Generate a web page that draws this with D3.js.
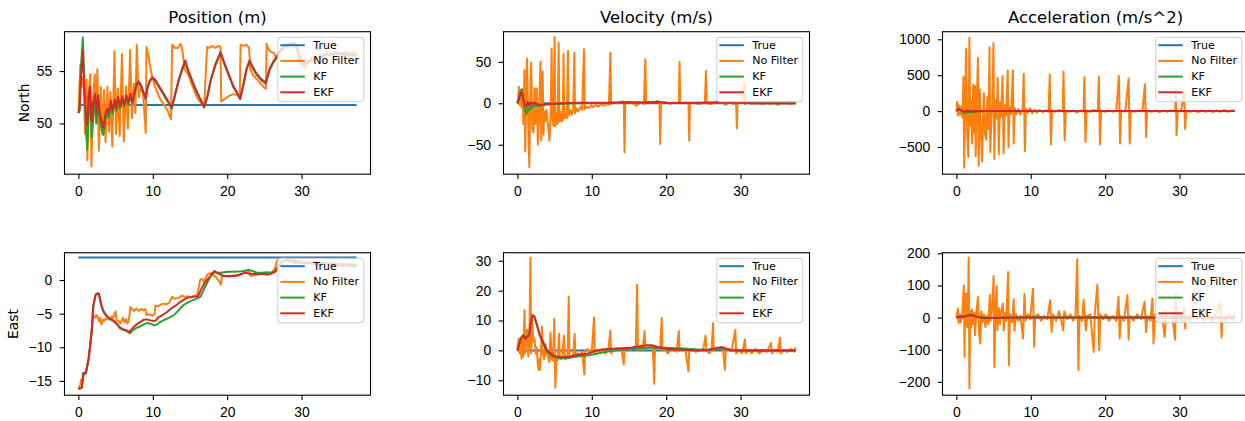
<!DOCTYPE html>
<html lang="en">
<head>
<meta charset="UTF-8">
<title>Position / Velocity / Acceleration</title>
<script src="https://d3js.org/d3.v7.min.js"></script>
<style>
  body { margin: 0; background: #fff; }
  svg { display: block; font-family: 'DejaVu Sans', sans-serif; }
  .tick text { font-size: 13.9px; fill: #000; }
  .tick line { stroke: #000; stroke-width: 1.1px; }
</style>
</head>
<body>
<div id="chart"></div>
<script>
// ---- data: [time (s), value] pairs ----
const seriesNames = ["True", "No Filter", "KF", "EKF"];
const colTitles = ["Position (m)", "Velocity (m/s)", "Acceleration (m/s^2)"];
const rowLabels = ["North", "East"];
const xTicks = [0, 10, 20, 30];

// North position
const posNorthTrue = [[0, 51.75], [37.4, 51.75]];
const posNorthMeas = [[0,51.0],[0.25,55.6],[0.5,53.5],[0.7,54.5],[0.9,49.0],[1.1,54.2],[1.2,46.5],[1.4,53.0],[1.6,54.7],[1.75,45.9],[1.95,52.0],[2.2,54.7],[2.35,50.0],[2.55,55.2],[2.75,47.4],[3.0,53.5],[3.2,49.0],[3.45,53.2],[3.65,48.2],[3.9,53.5],[4.1,49.2],[4.3,53.0],[4.55,47.8],[4.85,56.9],[5.05,49.0],[5.3,53.3],[5.55,48.8],[5.85,56.6],[6.1,48.3],[6.4,53.5],[6.65,49.5],[6.95,57.0],[7.2,50.5],[7.45,53.8],[7.65,51.0],[7.85,57.5],[8.1,52.5],[8.4,53.5],[8.7,52.8],[9.05,49.1],[9.15,57.3],[9.4,56.5],[9.8,54.8],[10.3,53.5],[11.0,52.3],[11.5,51.8],[12.0,51.2],[12.45,50.4],[12.6,57.5],[13.0,57.2],[13.4,57.2],[13.7,57.6],[13.9,57.3],[14.3,55.2],[14.8,54.6],[15.3,53.6],[15.8,52.7],[16.3,52.1],[16.9,51.6],[17.3,57.3],[17.6,57.2],[18.0,57.4],[18.4,57.2],[18.8,57.4],[19.1,57.3],[19.2,52.1],[19.6,52.3],[20.2,52.6],[20.8,52.8],[21.3,52.7],[21.7,52.5],[21.8,57.5],[22.2,57.4],[22.6,57.5],[22.95,57.2],[23.1,55.2],[23.5,54.6],[24.0,54.2],[24.5,53.8],[25.0,53.4],[25.2,53.3],[25.3,57.6],[25.6,57.0],[26.0,56.8],[26.3,56.7],[26.6,56.2],[27.0,56.8],[27.5,57.4],[28.0,57.2],[28.5,57.6],[29.0,57.7],[29.4,57.3],[29.6,56.0],[30.0,55.5],[30.5,55.3],[31.0,55.9],[31.5,56.3],[32.0,56.2],[32.5,56.6],[33.0,56.4],[33.5,56.9],[34.0,56.6],[34.5,56.9],[35.0,56.7],[35.5,56.5],[36.0,56.9],[36.5,56.6],[37.0,56.8],[37.4,56.6]];
const posNorthKF = [[0,51.0],[0.15,51.3],[0.35,55.5],[0.6,58.2],[0.8,53.5],[1.0,49.5],[1.2,47.5],[1.35,50.5],[1.55,52.6],[1.8,48.7],[2.0,50.5],[2.25,52.2],[2.45,50.0],[2.65,52.3],[2.9,50.2],[3.1,49.5],[3.35,48.9],[3.6,50.2],[3.85,51.0],[4.1,50.6],[4.35,51.9],[4.6,50.9],[4.9,52.0],[5.1,51.2],[5.35,52.3],[5.6,51.4],[5.9,52.4],[6.15,51.6],[6.45,52.5],[6.7,51.8],[7.0,52.6],[7.25,51.9],[7.55,52.8],[7.85,53.6],[8.1,53.8],[8.4,53.6],[8.7,53.0],[9.05,52.3],[9.3,53.4],[9.6,54.0],[9.9,54.3],[10.3,54.1],[10.8,53.5],[11.4,52.8],[12.0,52.1],[12.55,51.4],[13.0,52.7],[13.5,54.1],[14.0,55.2],[14.35,55.9],[14.8,54.9],[15.4,53.8],[16.0,52.8],[16.5,52.1],[16.9,51.5],[17.3,52.4],[17.8,54.1],[18.4,55.5],[19.1,56.7],[19.6,55.7],[20.2,54.6],[20.8,53.5],[21.3,52.9],[21.75,52.3],[22.2,53.7],[22.6,55.1],[23.0,55.9],[23.5,55.2],[24.0,54.6],[24.6,54.1],[25.2,53.8],[25.7,55.1],[26.2,55.8],[26.6,56.2],[27.2,56.9],[27.8,57.3],[28.4,57.5],[29.0,57.6],[29.4,57.1],[29.8,56.2],[30.3,55.6],[30.8,55.8],[31.3,56.0],[32.0,56.1],[32.6,56.3],[33.3,56.5],[34.0,56.5],[34.7,56.6],[35.4,56.6],[36.2,56.5],[36.8,56.5],[37.4,56.4]];
const posNorthEKF = [[0,51.0],[0.15,51.2],[0.35,54.5],[0.6,56.9],[0.8,53.0],[1.0,51.0],[1.2,49.8],[1.35,52.5],[1.55,53.5],[1.8,50.2],[2.0,52.0],[2.25,52.8],[2.45,51.0],[2.65,52.7],[2.9,50.8],[3.1,50.3],[3.35,49.6],[3.6,50.8],[3.85,51.4],[4.1,51.0],[4.35,52.2],[4.6,51.2],[4.9,52.3],[5.1,51.5],[5.35,52.5],[5.6,51.6],[5.9,52.6],[6.15,51.8],[6.45,52.7],[6.7,52.0],[7.0,52.8],[7.25,52.1],[7.55,53.0],[7.85,53.8],[8.1,54.0],[8.4,53.7],[8.7,53.1],[9.05,52.4],[9.3,53.5],[9.6,54.1],[9.9,54.4],[10.3,54.2],[10.8,53.6],[11.4,52.9],[12.0,52.2],[12.55,51.5],[13.0,52.8],[13.5,54.2],[14.0,55.3],[14.35,56.0],[14.8,55.0],[15.4,53.9],[16.0,52.9],[16.5,52.2],[16.9,51.6],[17.3,52.5],[17.8,54.2],[18.4,55.6],[19.1,56.8],[19.6,55.8],[20.2,54.7],[20.8,53.6],[21.3,53.0],[21.75,52.4],[22.2,53.8],[22.6,55.2],[23.0,56.0],[23.5,55.3],[24.0,54.7],[24.6,54.2],[25.2,53.9],[25.7,55.2],[26.2,55.9],[26.6,56.3],[27.2,57.0],[27.8,57.4],[28.4,57.6],[29.0,57.7],[29.4,57.2],[29.8,56.3],[30.3,55.7],[30.8,55.9],[31.3,56.1],[32.0,56.2],[32.6,56.4],[33.3,56.6],[34.0,56.6],[34.7,56.7],[35.4,56.7],[36.2,56.6],[36.8,56.6],[37.4,56.5]];

// North velocity
const velNorthTrue = [[0, 0], [37.4, 0]];
const velNorthMeas = [[0,0],[0.1,5],[0.2,20],[0.3,-2],[0.45,15],[0.55,-5],[0.7,10],[0.8,-25],[0.95,40],[1.05,-58],[1.2,18],[1.3,54],[1.45,-20],[1.6,-77],[1.75,18],[1.85,49],[2.0,-30],[2.15,-35],[2.3,18],[2.45,-25],[2.6,18],[2.75,-50],[2.9,-20],[3.0,20],[3.1,50],[3.2,-45],[3.3,28],[3.4,38],[3.5,-38],[3.6,-10],[3.75,-22],[3.9,-8],[4.1,-25],[4.3,-45],[4.45,-20],[4.6,66],[4.7,-15],[4.85,-27],[5.0,80],[5.1,-28],[5.25,-12],[5.4,-25],[5.55,73],[5.65,-22],[5.8,-10],[5.95,-22],[6.1,-20],[6.2,60],[6.3,-18],[6.5,-12],[6.65,-18],[6.8,63],[6.9,-15],[7.1,-8],[7.3,-14],[7.5,-7],[7.65,61],[7.75,-12],[8.0,-6],[8.2,-10],[8.5,-4],[8.7,-8],[8.95,65],[9.05,-7],[9.3,-4],[9.6,-6],[9.9,-2],[10.2,-5],[10.5,-2],[10.9,-4],[11.2,-1],[11.6,-3],[12.0,-1],[12.3,-2],[12.5,61],[12.6,-1],[13.0,1],[13.5,0],[14.0,2],[14.3,2],[14.4,-59],[14.5,1],[15.0,2],[15.5,0],[16.0,-3],[16.5,1],[17.0,-1],[17.2,53],[17.3,1],[17.8,2],[18.3,1],[18.8,3],[19.1,0],[19.2,-49],[19.3,0],[20.0,1],[20.5,-1],[21.0,1],[21.7,0],[21.8,50],[21.9,0],[22.5,1],[23.0,0],[23.1,-45],[23.2,1],[23.8,0],[24.5,-1],[25.2,1],[25.35,39],[25.45,0],[26.0,-1],[26.6,1],[27.0,3],[27.5,1],[28.0,-2],[28.5,2],[29.0,-1],[29.4,0],[29.5,-30],[29.6,0],[30.2,1],[30.5,25],[30.6,-1],[31.0,1],[31.5,-1],[32.0,2],[32.5,0],[33.0,-1],[33.5,1],[34.0,-1],[34.5,1],[35.0,-2],[35.5,0],[36.0,1],[36.5,-1],[37.0,0],[37.4,0]];
const velNorthKF = [[0,0],[0.2,7],[0.45,16],[0.6,17],[0.8,5],[1.0,-8],[1.2,-13],[1.4,-6],[1.6,-9],[1.8,-4],[2.0,-5],[2.3,-2],[2.6,-3],[3.0,-3],[3.5,-2],[4.0,-1.5],[5.0,-1],[6.0,-0.5],[8.0,0],[10.0,0.3],[12.0,0.4],[14.0,0.9],[15.0,1.1],[17.0,0.9],[19.0,1.4],[20.0,0.5],[22.0,0.3],[24.0,0.4],[26.0,0.7],[28.0,0.9],[30.0,0.4],[32.0,0],[37.4,0]];
const velNorthEKF = [[0,0],[0.2,5],[0.45,12],[0.6,13],[0.8,5],[1.0,-2],[1.2,-4],[1.4,2],[1.6,-3],[1.8,1],[2.0,-1],[2.3,1],[2.6,-1],[3.0,-2],[3.5,-1.5],[4.0,-1],[5.0,-0.5],[6.0,0],[8.0,0.5],[10.0,0.5],[12.0,0.5],[14.0,1],[15.0,1.2],[17.0,1],[19.0,1.5],[20.0,0.5],[22.0,0.3],[24.0,0.5],[26.0,0.8],[28.0,1],[30.0,0.5],[32.0,0],[37.4,0]];

// North acceleration
const accNorthTrue = [[0, 0], [37.4, 0]];
const accNorthMeas = [[0,0],[0.1,130],[0.2,-60],[0.35,80],[0.5,-50],[0.65,60],[0.8,-90],[0.95,480],[1.05,-790],[1.2,250],[1.3,865],[1.45,-310],[1.6,-640],[1.75,1020],[1.85,-200],[2.0,150],[2.1,-450],[2.25,370],[2.4,-300],[2.5,350],[2.6,-630],[2.75,200],[2.9,740],[3.0,-760],[3.15,300],[3.3,-300],[3.45,-700],[3.55,-200],[3.7,250],[3.85,-320],[4.0,-400],[4.15,200],[4.3,-250],[4.45,890],[4.55,-570],[4.7,-150],[4.85,200],[4.98,950],[5.1,-670],[5.25,150],[5.4,-100],[5.55,460],[5.7,-600],[5.85,120],[6.0,-80],[6.2,490],[6.35,-590],[6.5,80],[6.7,-60],[6.9,565],[7.0,-500],[7.15,60],[7.35,-40],[7.6,565],[7.7,-450],[7.85,40],[8.1,-40],[8.3,30],[8.6,-50],[8.9,20],[9.05,520],[9.2,-560],[9.35,30],[9.6,-20],[9.9,40],[10.2,-30],[10.5,20],[10.8,-20],[11.2,15],[11.6,-15],[12.0,10],[12.4,-10],[12.55,515],[12.7,-465],[12.85,10],[13.3,-10],[13.8,15],[14.3,-5],[14.4,550],[14.55,-405],[14.7,5],[15.2,-10],[15.7,10],[16.2,-20],[16.7,10],[17.1,-5],[17.2,470],[17.35,-430],[17.5,10],[18.0,-10],[18.5,15],[19.0,-5],[19.15,480],[19.3,-465],[19.45,5],[20.0,-10],[20.5,10],[21.0,-10],[21.5,5],[21.85,490],[22.0,-450],[22.15,5],[22.7,-5],[23.15,455],[23.3,-450],[23.45,5],[24.0,-10],[24.5,10],[25.0,-5],[25.35,375],[25.5,-360],[25.65,5],[26.2,-10],[26.8,10],[27.3,-15],[27.8,10],[28.3,-10],[28.8,10],[29.4,-5],[29.5,290],[29.6,-335],[29.75,5],[30.2,-5],[30.6,265],[30.75,-250],[30.9,5],[31.5,-10],[32.0,10],[32.5,-15],[33.0,10],[33.5,-10],[34.0,10],[34.5,-15],[35.0,10],[35.5,-10],[36.0,15],[36.5,-10],[37.0,10],[37.4,5]];
const accNorthKF = [[0,0],[0.3,35],[0.7,5],[1.0,-25],[1.4,-20],[2.0,-10],[3.0,-3],[5.0,0],[37.4,0]];
const accNorthEKF = [[0,0],[0.3,30],[0.7,10],[1.0,-10],[1.5,5],[2.0,-5],[3.0,2],[5.0,0],[37.4,0]];

// East position
const posEastTrue = [[0, 3.35], [37.4, 3.35]];
const posEastMeas = [[0,-16.2],[0.25,-15.5],[0.4,-14.8],[0.55,-15.0],[0.7,-14.2],[0.85,-13.9],[1.0,-13.7],[1.2,-12.8],[1.4,-11.5],[1.6,-9.5],[1.8,-7.2],[1.95,-5.5],[2.1,-5.3],[2.3,-5.6],[2.45,-5.2],[2.6,-5.6],[2.8,-6.2],[2.95,-5.6],[3.1,-6.6],[3.3,-5.9],[3.5,-6.0],[3.7,-5.7],[3.9,-5.9],[4.1,-5.6],[4.3,-5.9],[4.5,-5.4],[4.7,-5.6],[4.85,-5.0],[5.0,-4.7],[5.15,-6.0],[5.4,-6.1],[5.6,-6.4],[5.8,-6.1],[6.0,-5.6],[6.2,-6.3],[6.4,-5.8],[6.6,-6.5],[6.8,-5.8],[7.0,-4.0],[7.2,-4.3],[7.5,-4.6],[7.8,-4.2],[8.1,-4.6],[8.4,-4.3],[8.7,-4.5],[9.0,-4.3],[9.15,-5.2],[9.5,-5.1],[9.9,-5.3],[10.25,-5.1],[10.35,-3.8],[10.7,-3.9],[11.0,-3.7],[11.4,-3.5],[11.8,-3.6],[12.2,-3.4],[12.6,-2.5],[12.9,-2.8],[13.3,-2.7],[13.7,-2.5],[13.9,-2.3],[14.3,-2.5],[14.7,-2.4],[15.1,-2.6],[15.5,-2.4],[15.9,-2.4],[16.2,-1.0],[16.35,0.0],[16.6,0.2],[16.9,-0.3],[17.1,0.3],[17.4,0.9],[17.8,1.0],[18.2,0.7],[18.6,0.3],[19.0,-0.3],[19.15,-0.7],[19.3,0.7],[19.8,0.6],[20.3,0.5],[20.8,0.7],[21.3,0.6],[21.8,0.8],[22.3,1.0],[22.9,1.3],[23.1,0.6],[23.5,0.7],[24.0,0.8],[24.5,0.9],[25.0,1.0],[25.5,0.9],[26.0,1.1],[26.4,1.7],[26.7,2.9],[27.0,3.1],[27.6,3.3],[28.0,3.0],[28.5,2.8],[29.0,2.5],[29.5,2.6],[30.0,2.4],[30.5,2.7],[31.0,2.5],[31.5,2.4],[32.0,2.5],[32.5,2.3],[33.0,2.4],[33.5,2.2],[34.0,2.3],[34.5,2.2],[35.0,2.3],[35.5,2.1],[36.0,2.2],[36.5,2.0],[37.0,2.1],[37.4,2.0]];
const posEastKF = [[0,-16.2],[0.45,-16.0],[0.67,-13.9],[1.0,-13.9],[1.4,-11.6],[1.8,-7.6],[2.0,-3.9],[2.3,-2.2],[2.5,-2.0],[2.75,-2.1],[3.1,-3.9],[3.4,-4.8],[3.8,-5.4],[4.2,-5.8],[4.7,-6.1],[5.2,-6.6],[5.6,-7.2],[6.0,-7.4],[6.5,-7.6],[6.9,-7.9],[7.4,-7.4],[7.8,-7.1],[8.3,-6.9],[8.8,-6.6],[9.2,-6.4],[9.7,-6.5],[10.3,-6.75],[10.7,-6.5],[11.0,-6.25],[11.6,-5.9],[12.2,-5.6],[12.8,-5.25],[13.3,-4.7],[13.7,-4.2],[14.1,-3.75],[14.6,-3.4],[15.2,-3.1],[15.9,-2.75],[16.4,-2.5],[16.9,-1.3],[17.5,0.0],[17.9,0.8],[18.2,1.15],[18.7,1.1],[19.1,1.1],[20.0,1.25],[21.0,1.25],[22.0,1.3],[22.9,1.5],[23.5,1.3],[24.0,1.1],[24.7,1.1],[25.4,1.15],[26.0,1.1],[26.5,1.4],[26.9,2.1],[27.3,2.6],[27.6,2.9],[28.3,3.0],[29.0,2.9],[30.0,2.7],[31.0,2.6],[32.0,2.6],[33.0,2.5],[34.0,2.5],[35.0,2.4],[36.0,2.4],[37.0,2.3],[37.4,2.3]];
const posEastEKF = [[0,-16.2],[0.45,-16.0],[0.67,-13.8],[1.0,-13.8],[1.4,-11.5],[1.8,-7.5],[2.0,-3.8],[2.3,-2.3],[2.5,-2.0],[2.75,-2.0],[3.1,-3.8],[3.4,-4.7],[3.8,-5.3],[4.2,-5.7],[4.7,-6.0],[5.2,-6.5],[5.6,-7.1],[6.0,-7.3],[6.5,-7.5],[6.9,-7.75],[7.1,-7.4],[7.4,-7.0],[7.8,-6.6],[8.3,-6.25],[8.8,-5.9],[9.2,-5.85],[9.7,-6.0],[10.3,-6.1],[10.8,-5.5],[11.3,-5.2],[11.9,-4.75],[12.4,-4.3],[12.8,-4.0],[13.3,-3.6],[13.7,-3.25],[14.2,-2.9],[14.6,-2.65],[15.3,-2.5],[16.1,-2.4],[16.5,-1.4],[16.8,-0.75],[17.2,-0.1],[17.7,0.5],[18.0,1.0],[18.3,1.35],[18.8,1.0],[19.5,0.6],[20.2,0.6],[20.9,0.6],[21.6,0.8],[22.4,1.1],[23.3,0.9],[24.1,0.9],[24.9,0.9],[25.5,0.8],[26.0,1.0],[26.4,1.2],[26.7,1.6],[27.0,2.2],[27.35,2.75],[27.8,2.9],[28.5,2.9],[29.2,2.7],[30.0,2.6],[31.0,2.5],[32.0,2.4],[33.0,2.4],[34.0,2.3],[35.0,2.2],[36.0,2.2],[37.0,2.1],[37.4,2.0]];

// East velocity
const velEastTrue = [[0, 0], [37.4, 0]];
const velEastMeas = [[0,0],[0.15,4],[0.3,-1],[0.45,3],[0.55,-2.8],[0.7,4.5],[0.8,-2],[0.95,13.5],[1.05,-1],[1.15,4],[1.3,7],[1.45,-2],[1.6,3],[1.75,31],[1.85,-1],[2.0,10],[2.15,3],[2.3,4],[2.45,-1],[2.6,1],[2.75,-5],[2.85,-6.5],[2.95,-3],[3.05,-6.5],[3.15,-1],[3.3,8],[3.4,-1],[3.6,-3],[3.75,2],[3.9,-1],[4.1,-2],[4.3,-4],[4.45,6],[4.6,-3],[4.8,-3.5],[4.95,10.6],[5.1,-12.5],[5.25,-2],[5.4,-3.5],[5.6,5.6],[5.7,-2.5],[5.9,-3],[6.05,-2],[6.25,5],[6.4,-3],[6.6,-2],[6.75,-2.5],[6.9,18],[7.0,-2.5],[7.2,-2],[7.5,-1.5],[7.7,5.6],[7.8,-1.5],[8.1,-1],[8.4,-1.5],[8.7,-0.5],[9.0,-8],[9.1,-0.5],[9.4,0.5],[9.7,-0.5],[10.0,0],[10.3,11],[10.4,-1],[10.7,0],[11.0,-0.5],[11.4,0.5],[11.8,-1],[12.2,0],[12.5,6.7],[12.6,-1],[12.9,0.3],[13.3,0],[13.7,0.5],[14.0,0],[14.3,-4.7],[14.4,0.5],[14.8,1],[15.2,0],[15.6,1],[15.9,0.5],[16.1,22],[16.2,0],[16.5,1.5],[16.8,0],[17.1,6.5],[17.2,0.5],[17.5,1],[17.8,1.5],[18.2,1],[18.4,-11.2],[18.5,1],[18.8,0.5],[19.2,1],[19.4,10.9],[19.5,0],[19.8,0.5],[20.2,-1],[20.6,0],[21.0,0.5],[21.4,-0.5],[21.7,6.5],[21.8,0],[22.2,0.5],[22.6,0],[23.0,-7],[23.1,0],[23.5,0.5],[24.0,-0.5],[24.5,0],[25.0,0.5],[25.3,5],[25.4,0],[25.8,-1],[26.1,0],[26.3,9.2],[26.4,0],[26.8,1],[27.2,0.5],[27.6,1],[27.9,-6.5],[28.0,0],[28.4,0.5],[28.8,0],[29.3,6.9],[29.4,-1],[29.8,0],[30.2,-1],[30.6,3.6],[30.7,-1],[31.1,0],[31.5,-1],[32.0,0.5],[32.5,-1],[33.0,0],[33.5,-0.5],[34.1,2.5],[34.2,-1],[34.6,0],[35.0,-0.5],[35.3,4.3],[35.4,-1],[35.8,0],[36.3,-0.5],[36.8,0.5],[37.2,-0.5],[37.4,1]];
const velEastKF = [[0,0],[0.45,4.1],[0.8,5.2],[1.1,4.0],[1.3,4.6],[1.55,5.1],[1.8,9.2],[2.0,11.8],[2.3,11.3],[2.7,7.9],[3.0,5.0],[3.35,3.0],[3.7,1.0],[4.0,-0.5],[4.7,-2.0],[5.6,-2.6],[6.7,-2.6],[7.6,-2.2],[8.5,-1.9],[9.4,-1.7],[10.5,-1.2],[11.6,-0.6],[12.6,-0.2],[13.6,0.2],[15.2,0.5],[16.5,0.7],[18.0,0.9],[19.2,1.0],[20.6,0.8],[22.3,0.6],[24.1,0.3],[25.5,0.1],[27.3,0.6],[28.6,0.2],[30.0,0],[37.4,0]];
const velEastEKF = [[0,0],[0.45,3.9],[0.8,5.0],[1.1,3.9],[1.3,4.5],[1.55,5.0],[1.8,9],[2.0,11.7],[2.3,11.2],[2.7,7.8],[3.0,5.2],[3.35,3.4],[3.7,1.5],[4.0,0],[4.4,-1],[4.7,-1.5],[5.1,-2],[5.6,-2.25],[6.2,-2.3],[6.7,-2.25],[7.2,-2.0],[7.6,-1.7],[8.5,-1.4],[9.4,-1.1],[10.0,-0.6],[10.7,0],[11.5,0.3],[12.5,0.55],[13.8,0.7],[15.2,0.9],[16.5,1.35],[17.4,1.7],[18.1,1.7],[18.7,1.3],[19.2,0.8],[20.6,0.35],[22.3,0.2],[24.1,0],[25.5,0.1],[26.6,0.6],[27.3,1.1],[27.8,0.9],[28.6,0],[30.0,0],[37.4,0]];

// East acceleration
const accEastTrue = [[0, 0], [37.4, 0]];
const accEastMeas = [[0,0],[0.2,28],[0.3,-17],[0.45,10],[0.6,-15],[0.8,20],[1.0,100],[1.1,-123],[1.2,70],[1.35,75],[1.45,-30],[1.55,20],[1.65,187],[1.75,-221],[1.85,20],[2.0,-30],[2.1,25],[2.25,-20],[2.4,15],[2.5,-55],[2.7,20],[2.9,64],[3.05,-50],[3.2,-81],[3.35,20],[3.5,-15],[3.7,10],[3.9,-30],[4.1,5],[4.3,-20],[4.5,70],[4.6,-10],[4.8,30],[5.0,129],[5.1,-154],[5.25,40],[5.4,98],[5.5,-40],[5.7,30],[5.85,-20],[6.0,20],[6.25,44],[6.35,-40],[6.55,15],[6.7,-10],[6.95,142],[7.05,-149],[7.2,10],[7.5,-15],[7.7,57],[7.8,-40],[8.0,10],[8.3,-10],[8.6,5],[8.95,-65],[9.15,73],[9.3,-10],[9.6,10],[9.9,-5],[10.3,90],[10.45,-91],[10.6,5],[11.0,10],[11.4,-10],[11.8,5],[12.2,-5],[12.6,54],[12.8,-45],[13.0,10],[13.4,-10],[13.8,20],[14.1,-10],[14.35,-40],[14.5,20],[14.9,-5],[15.3,10],[15.7,-10],[16.0,5],[16.25,182],[16.4,-164],[16.55,5],[16.9,-10],[17.1,56],[17.4,-40],[17.6,5],[18.0,10],[18.45,-107],[18.6,10],[18.95,102],[19.2,-102],[19.35,10],[19.7,-5],[20.1,10],[20.5,-10],[21.0,5],[21.5,-10],[21.8,64],[21.95,-65],[22.1,5],[22.5,-10],[23.0,70],[23.15,-69],[23.3,5],[23.8,-10],[24.3,10],[24.8,-5],[25.3,49],[25.5,-45],[25.7,5],[26.1,-10],[26.35,59],[26.5,-81],[26.7,10],[27.1,-10],[27.6,15],[28.0,-60],[28.2,10],[28.6,-5],[29.0,5],[29.4,-69],[29.5,75],[29.65,-10],[30.0,10],[30.3,-10],[30.6,33],[30.75,-34],[30.9,5],[31.4,-10],[31.9,10],[32.4,-5],[32.9,10],[33.4,-10],[33.9,5],[34.4,-10],[34.9,10],[35.5,49],[35.65,-62],[35.8,5],[36.2,-10],[36.7,10],[37.1,-10],[37.4,15]];
const accEastKF = [[0,0],[0.5,4],[1.0,3],[1.5,7],[2.0,8],[2.5,4],[3.0,1],[3.5,-1],[5.0,-1],[8.0,0],[37.4,0]];
const accEastEKF = [[0,0],[0.5,3],[1.0,2],[1.5,6],[2.0,8],[2.5,5],[3.0,2],[3.5,0],[5.0,-1],[8.0,0],[37.4,0]];

// axis limits and ticks per panel
const yLimits = [[45.16, 58.75], [-85.5, 86.3], [-879, 1106], [-17.13, 4.07], [-15.0, 32.7], [-241.6, 201.9]];
const yTickValues = [[50, 55], [-50, 0, 50], [-500, 0, 500, 1000], [-15, -10, -5, 0], [-10, 0, 10, 20, 30], [-200, -100, 0, 100, 200]];

const panels = [
  [posNorthTrue, posNorthMeas, posNorthKF, posNorthEKF],
  [velNorthTrue, velNorthMeas, velNorthKF, velNorthEKF],
  [accNorthTrue, accNorthMeas, accNorthKF, accNorthEKF],
  [posEastTrue, posEastMeas, posEastKF, posEastEKF],
  [velEastTrue, velEastMeas, velEastKF, velEastEKF],
  [accEastTrue, accEastMeas, accEastKF, accEastEKF]
];

// ---- layout ----
const width = 1245, height = 421;
const colLeft = [64.5, 503.5, 942.5];
const rowTop = [31.7, 252.7];
const axW = 306, axH = 142.5;
const xDomain = [-1.87, 39.27];
const colors = ["#1f77b4", "#ff7f0e", "#2ca02c", "#d62728"];
const rowLabelX = [24, 13];

const svg = d3.select("#chart").append("svg")
  .attr("width", width)
  .attr("height", height);

panels.forEach((series, i) => {
  const row = Math.floor(i / 3), col = i % 3;
  const g = svg.append("g")
    .attr("transform", `translate(${colLeft[col]},${rowTop[row]})`);

  const x = d3.scaleLinear().domain(xDomain).range([0, axW]);
  const y = d3.scaleLinear().domain(yLimits[i]).range([axH, 0]);

  g.append("clipPath").attr("id", "clip" + i)
    .append("rect").attr("width", axW).attr("height", axH);

  const line = d3.line().x(d => x(d[0])).y(d => y(d[1]));
  series.forEach((data, k) => {
    g.append("path")
      .datum(data)
      .attr("clip-path", `url(#clip${i})`)
      .attr("fill", "none")
      .attr("stroke", colors[k])
      .attr("stroke-width", 2)
      .attr("stroke-linejoin", "round")
      .attr("d", line);
  });

  // frame
  g.append("rect")
    .attr("width", axW).attr("height", axH)
    .attr("fill", "none").attr("stroke", "#000").attr("stroke-width", 1.1);

  g.append("g")
    .attr("transform", `translate(0,${axH})`)
    .call(d3.axisBottom(x).tickValues(xTicks).tickSize(4.9).tickPadding(7).tickFormat(d3.format("d")))
    .call(a => a.select(".domain").remove());

  g.append("g")
    .call(d3.axisLeft(y).tickValues(yTickValues[i]).tickSize(4.9).tickPadding(7.5).tickFormat(d3.format("d")))
    .call(a => a.select(".domain").remove());

  // legend, upper right
  const lg = g.append("g").attr("transform", `translate(${axW - 6.7 - 86},5.6)`);
  lg.append("rect")
    .attr("width", 86).attr("height", 64.4).attr("rx", 2.8)
    .attr("fill", "#fff").attr("fill-opacity", 0.8)
    .attr("stroke", "#cccccc").attr("stroke-width", 1);
  seriesNames.forEach((name, k) => {
    const yy = 7.9 + k * 15.7;
    lg.append("line")
      .attr("x1", 2.5).attr("x2", 27).attr("y1", yy).attr("y2", yy)
      .attr("stroke", colors[k]).attr("stroke-width", 2);
    lg.append("text")
      .attr("x", 35.5).attr("y", yy)
      .attr("dominant-baseline", "central")
      .style("font-size", "11px")
      .text(name);
  });

  if (row === 0) {
    svg.append("text")
      .attr("x", colLeft[col] + axW / 2).attr("y", rowTop[0] - 8.5)
      .attr("text-anchor", "middle")
      .style("font-size", "16.5px")
      .text(colTitles[col]);
  }
  if (col === 0) {
    svg.append("text")
      .attr("transform", `translate(${rowLabelX[row]},${rowTop[row] + axH / 2}) rotate(-90)`)
      .attr("text-anchor", "middle")
      .attr("dominant-baseline", "central")
      .style("font-size", "13.9px")
      .text(rowLabels[row]);
  }
});
</script>
</body>
</html>
